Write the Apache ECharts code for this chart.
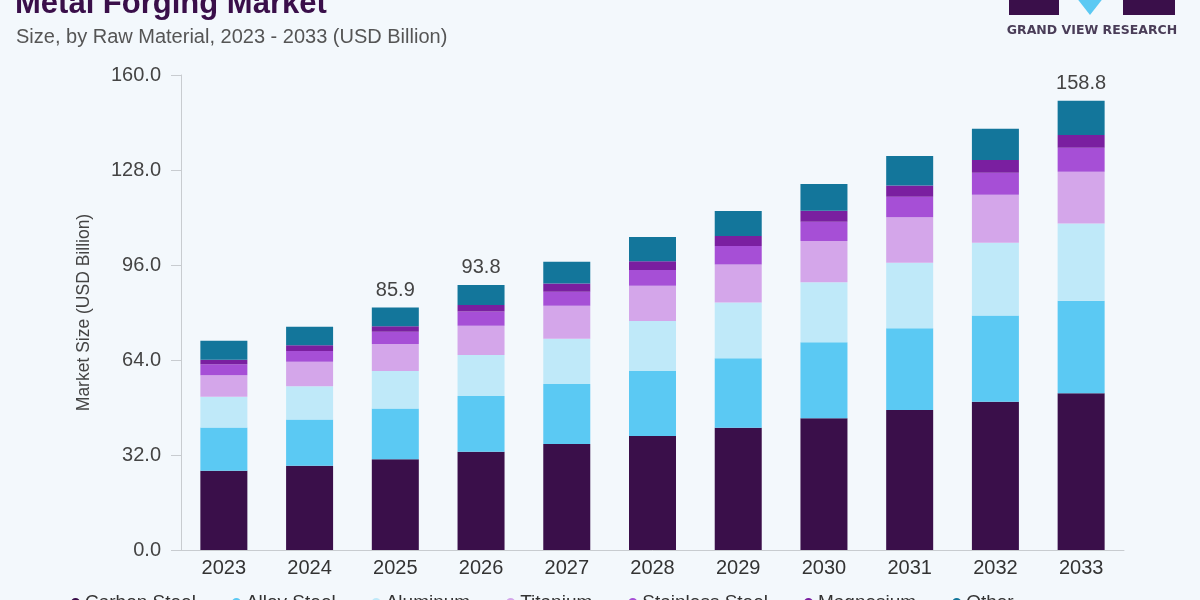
<!DOCTYPE html>
<html>
<head>
    <meta charset="utf-8">
    <title>Metal Forging Market</title>
    <script src="https://cdn.jsdelivr.net/npm/echarts@6/dist/echarts.min.js"></script>
    <style>
        html, body { margin: 0; padding: 0; background: #f3f8fc; }
        #main { width: 1200px; height: 600px; }
    </style>
</head>
<body>
<div id="main"></div>
<script type="text/javascript">
    // data (USD Billion)
    var years = ['2023', '2024', '2025', '2026', '2027', '2028', '2029', '2030', '2031', '2032', '2033'];
    var carbonSteel    = [26.7, 28.4, 30.6, 33.1, 35.7, 38.4, 41.2, 44.4, 47.2, 49.9, 52.8];
    var alloySteel     = [14.6, 15.6, 17.1, 18.8, 20.2, 21.9, 23.4, 25.6, 27.5, 29.1, 31.2];
    var aluminum       = [10.3, 11.2, 12.6, 13.8, 15.3, 16.8, 18.8, 20.2, 22.1, 24.5, 26.0];
    var titanium       = [7.3, 8.2, 9.1, 9.8, 11.1, 11.9, 12.8, 13.9, 15.3, 16.2, 17.4];
    var stainlessSteel = [3.7, 3.6, 4.1, 4.8, 4.7, 5.3, 6.2, 6.5, 6.9, 7.4, 8.1];
    var magnesium      = [1.5, 2.0, 1.9, 2.2, 2.8, 3.0, 3.4, 3.7, 3.8, 4.3, 4.3];
    var other          = [6.4, 6.2, 6.3, 6.8, 7.3, 8.1, 8.4, 9.0, 9.9, 10.5, 11.5];
    // totals printed above some bars
    var totalLabels = ['', '', '85.9', '93.8', '', '', '', '', '', '', '158.8'];

    var seriesNames = ['Carbon Steel', 'Alloy Steel', 'Aluminum', 'Titanium', 'Stainless Steel', 'Magnesium', 'Other'];
    var seriesData = [carbonSteel, alloySteel, aluminum, titanium, stainlessSteel, magnesium, other];
    var colors = ['#3a0f4a', '#5bc9f3', '#bfe9f9', '#d4a6ea', '#a64fd6', '#7a1fa0', '#13769b'];

    var font = '"Liberation Sans", Arial, sans-serif';

    var series = [];
    for (var i = 0; i < seriesNames.length; i++) {
        var s = {
            name: seriesNames[i],
            type: 'bar',
            stack: 'total',
            data: seriesData[i],
            barWidth: 47,
            itemStyle: {color: colors[i]}
        };
        if (i === seriesNames.length - 1) {
            s.label = {
                show: true,
                position: 'top',
                distance: 7,
                fontFamily: font,
                fontSize: 20,
                color: '#444',
                formatter: function (p) {
                    return totalLabels[p.dataIndex];
                }
            };
        }
        series.push(s);
    }

    var myChart = echarts.init(document.getElementById('main'));
    var option = {
        backgroundColor: '#f3f8fc',
        animation: false,
        color: colors,
        title: [
            {
                text: 'Metal Forging Market',
                left: 10,
                top: -16,
                textStyle: {fontFamily: font, fontSize: 31, fontWeight: 900, color: '#3a0f4a'}
            },
            {
                text: 'Size, by Raw Material, 2023 - 2033 (USD Billion)',
                left: 11,
                top: 22,
                textStyle: {fontFamily: font, fontSize: 20, fontWeight: 'normal', color: '#555'}
            }
        ],
        graphic: [
            {type: 'rect', shape: {x: 1009, y: -10, width: 50, height: 25}, style: {fill: '#3a0f4a'}},
            {type: 'polygon', shape: {points: [[1072, -8], [1108, -8], [1090, 15]]}, style: {fill: '#5bc9f3'}},
            {type: 'rect', shape: {x: 1123, y: -10, width: 52, height: 25}, style: {fill: '#3a0f4a'}},
            {
                type: 'text', x: 1092, y: 31,
                style: {
                    text: 'GRAND VIEW RESEARCH', align: 'center', verticalAlign: 'middle',
                    font: 'bold 12.5px "DejaVu Sans", sans-serif', fill: '#4a3d58'
                }
            }
        ],
        legend: {
            data: seriesNames,
            bottom: -17,
            left: 66,
            icon: 'circle',
            itemWidth: 9,
            itemHeight: 9,
            itemGap: 36,
            selectedMode: false,
            textStyle: {fontFamily: font, fontSize: 19, color: '#333'}
        },
        grid: {
            left: 181,
            right: 76,
            top: 75,
            bottom: 50
        },
        xAxis: {
            type: 'category',
            data: years,
            axisLine: {lineStyle: {color: '#c8ccd0'}},
            axisTick: {show: false},
            axisLabel: {fontFamily: font, fontSize: 20, color: '#333', margin: 8}
        },
        yAxis: {
            type: 'value',
            min: 0,
            max: 160,
            interval: 32,
            name: 'Market Size (USD Billion)',
            nameLocation: 'middle',
            nameGap: 88,
            nameTextStyle: {fontFamily: font, fontSize: 17.5, color: '#444'},
            axisLine: {show: true, lineStyle: {color: '#c8ccd0'}},
            axisTick: {show: true, length: 10, lineStyle: {color: '#c8ccd0'}},
            splitLine: {show: false},
            axisLabel: {
                fontFamily: font, fontSize: 20, color: '#444', margin: 20,
                formatter: function (v) { return v.toFixed(1); }
            }
        },
        series: series
    };
    myChart.setOption(option);
</script>
</body>
</html>
